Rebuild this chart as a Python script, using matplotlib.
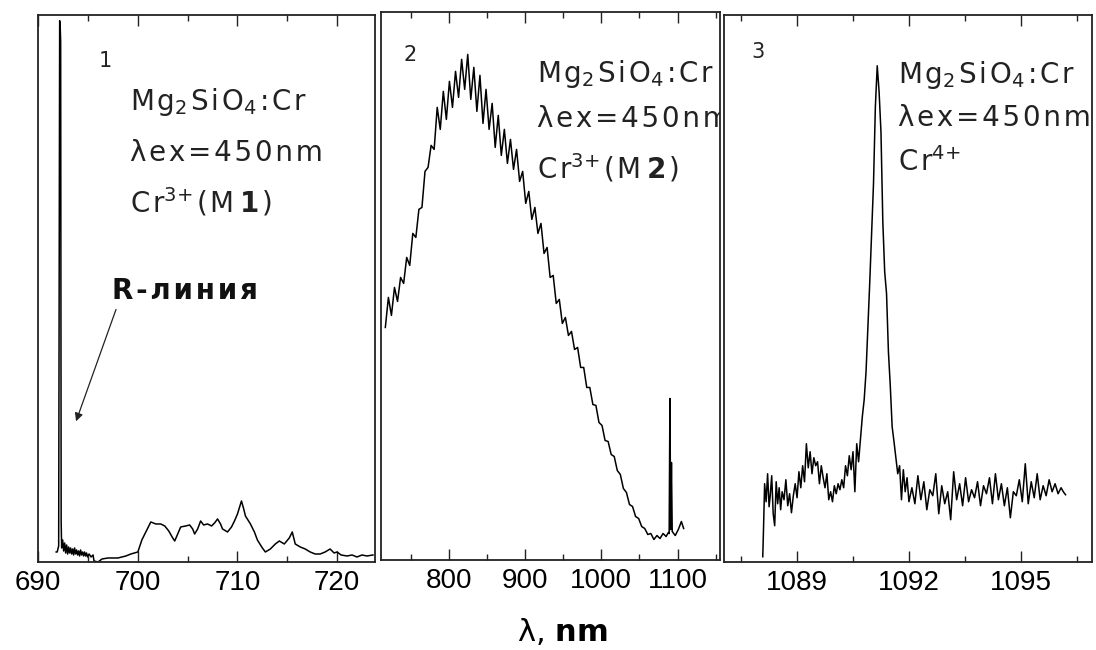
import matplotlib.pyplot as plt
from matplotlib.ticker import FixedLocator

# ---- данные (интенсивность в отн. ед.) ----
# 1: Cr3+ (M1), R-линия
wl1 = [691.8, 691.9, 692.05, 692.15, 692.2, 692.25, 692.3, 692.35, 692.45, 692.55,
       692.65, 692.75, 692.85, 692.95, 693.05, 693.15, 693.25, 693.35, 693.45, 693.55,
       693.65, 693.75, 693.85, 693.95, 694.05, 694.15, 694.25, 694.35, 694.45, 694.55,
       694.65, 694.75, 694.85, 694.95, 695.1, 695.3, 695.5, 695.6, 696.0, 696.4,
       697.0, 698.0, 698.8, 699.3, 700.0, 700.4, 700.8, 701.3, 701.8, 702.3,
       702.7, 703.1, 703.5, 703.7, 704.0, 704.3, 704.8, 705.2, 705.5, 705.7,
       706.0, 706.3, 706.6, 707.0, 707.4, 707.7, 708.0, 708.3, 708.5, 709.0,
       709.4, 709.7, 710.0, 710.4, 710.6, 710.8, 711.3, 711.7, 712.0, 712.5,
       712.8, 713.3, 713.8, 714.2, 714.7, 715.2, 715.5, 715.8, 716.3, 716.8,
       717.3, 717.8, 718.3, 718.8, 719.3, 719.7, 720.0, 720.4, 721.0, 721.5,
       722.0, 722.5, 723.0, 723.6]
int1 = [10, 10, 16, 541, 536, 520, 40, 14, 22, 11,
        19, 9, 17, 8, 15, 9, 14, 8, 13, 7,
        14, 8, 12, 7, 11, 6, 12, 7, 10, 6,
        10, 6, 9, 5, 8, 5, 7, 1, 0, 3,
        4, 4, 6, 8, 10, 22, 30, 40, 38, 38,
        36, 31, 24, 21, 28, 35, 36, 37, 33, 28,
        33, 41, 37, 38, 36, 39, 43, 38, 33, 30,
        35, 41, 48, 61, 54, 46, 38, 30, 22, 14,
        10, 13, 18, 21, 18, 24, 30, 18, 15, 13,
        10, 8, 8, 10, 13, 9, 10, 7, 6, 7,
        5, 7, 6, 7]

# 2: Cr3+ (M2)
wl2 = [717, 721, 725, 729, 733, 737, 741, 745, 749, 753,
       757, 761, 765, 769, 773, 777, 781, 785, 789, 793,
       797, 801, 805, 809, 813, 817, 821, 825, 829, 833,
       837, 841, 845, 849, 853, 857, 861, 865, 869, 873,
       877, 881, 885, 889, 893, 897, 901, 905, 909, 913,
       917, 921, 925, 929, 933, 937, 941, 945, 949, 953,
       957, 961, 965, 969, 973, 977, 981, 985, 989, 993,
       997, 1001, 1005, 1009, 1013, 1017, 1021, 1025, 1029, 1033,
       1037, 1041, 1045, 1049, 1053, 1057, 1061, 1065, 1069, 1073,
       1077, 1081, 1085, 1088, 1089, 1090, 1091, 1092, 1093, 1097,
       1101, 1105, 1108]
int2 = [232, 262, 244, 272, 258, 282, 276, 302, 294, 326,
        322, 350, 352, 388, 392, 414, 410, 452, 430, 468,
        440, 478, 452, 488, 462, 500, 470, 505, 460, 492,
        448, 484, 436, 470, 430, 456, 412, 444, 404, 430,
        396, 420, 390, 410, 378, 388, 356, 368, 340, 352,
        326, 336, 306, 312, 282, 284, 256, 260, 236, 242,
        224, 228, 210, 212, 192, 192, 172, 172, 155, 154,
        137, 134, 119, 118, 105, 103, 89, 85, 71, 67,
        55, 53, 43, 41, 33, 31, 25, 26, 20, 24,
        21, 26, 23, 27, 26, 161, 30, 97, 28, 24,
        30, 38, 31]

# 3: Cr4+
wl3 = [1088.08, 1088.10, 1088.13, 1088.17, 1088.21, 1088.25, 1088.28, 1088.32, 1088.36, 1088.40,
       1088.44, 1088.48, 1088.52, 1088.56, 1088.60, 1088.65, 1088.70, 1088.75, 1088.80, 1088.85,
       1088.90, 1088.95, 1089.00, 1089.05, 1089.10, 1089.15, 1089.20, 1089.25, 1089.30, 1089.35,
       1089.40, 1089.45, 1089.50, 1089.55, 1089.60, 1089.65, 1089.70, 1089.75, 1089.80, 1089.85,
       1089.90, 1089.95, 1090.00, 1090.05, 1090.10, 1090.15, 1090.20, 1090.25, 1090.30, 1090.35,
       1090.40, 1090.45, 1090.50, 1090.55, 1090.60, 1090.65, 1090.70, 1090.75, 1090.80, 1090.85,
       1090.90, 1090.95, 1091.00, 1091.05, 1091.10, 1091.15, 1091.20, 1091.25, 1091.30, 1091.35,
       1091.40, 1091.45, 1091.50, 1091.55, 1091.60, 1091.65, 1091.70, 1091.75, 1091.80, 1091.85,
       1091.90, 1091.95, 1092.00, 1092.08, 1092.16, 1092.24, 1092.32, 1092.40, 1092.48, 1092.56,
       1092.64, 1092.72, 1092.80, 1092.88, 1092.96, 1093.04, 1093.12, 1093.20, 1093.28, 1093.36,
       1093.44, 1093.52, 1093.60, 1093.68, 1093.76, 1093.84, 1093.92, 1094.00, 1094.08, 1094.16,
       1094.24, 1094.32, 1094.40, 1094.48, 1094.56, 1094.64, 1094.72, 1094.80, 1094.88, 1094.96,
       1095.04, 1095.12, 1095.20, 1095.28, 1095.36, 1095.44, 1095.52, 1095.60, 1095.68, 1095.76,
       1095.84, 1095.92, 1096.00, 1096.08, 1096.14, 1096.20]
int3 = [5, 32, 78, 60, 88, 55, 66, 86, 48, 36,
        80, 58, 74, 52, 70, 62, 82, 56, 68, 49,
        66, 78, 64, 90, 74, 96, 80, 118, 94, 110,
        88, 104, 96, 100, 78, 96, 84, 74, 88, 62,
        70, 60, 76, 68, 78, 72, 82, 74, 96, 86,
        106, 92, 110, 70, 118, 100, 122, 145, 162, 190,
        235, 280, 330, 378, 455, 496, 470, 430, 340, 290,
        268, 210, 176, 135, 120, 104, 88, 96, 62, 92,
        70, 84, 60, 74, 58, 86, 62, 80, 52, 72,
        66, 88, 48, 76, 58, 70, 42, 90, 62, 78,
        56, 84, 60, 72, 64, 80, 56, 76, 68, 84,
        58, 88, 62, 78, 56, 74, 44, 70, 66, 82,
        60, 98, 58, 80, 64, 88, 62, 76, 66, 82,
        70, 78, 68, 74, 70, 67]

panel_nums = ['1', '2', '3']
centre_ion = ['3', '3', '4']
centre_site = ['1', '2', '']

xlims = [(690, 723.8), (711, 1155), (1087.05, 1096.92)]
major_ticks = [[690, 700, 710, 720], [800, 900, 1000, 1100], [1089, 1092, 1095]]
minor_ticks = [[695, 705, 715], [750, 850, 950, 1050, 1150], [1087.5, 1090.5, 1093.5, 1096.5]]

HS = '\u200a'  # узкий пробел для разрядки


def spaced(s):
    return HS.join(s)


formula = 'M' + HS + 'g$_2$' + HS + spaced('SiO') + '$_4$' + HS + spaced(':Cr')
excitation = spaced('λex=450nm')

plt.rcParams['font.family'] = ['DejaVu Sans']
plt.rcParams['mathtext.fontset'] = 'dejavusans'

fig = plt.figure(figsize=(10.96, 6.5), dpi=100)
rects = [[0.0349, 0.1354, 0.3072, 0.8420],
         [0.3474, 0.1392, 0.3091, 0.8418],
         [0.6609, 0.1358, 0.3358, 0.8415]]
axes = [fig.add_axes(r) for r in rects]

series = [(wl1, int1), (wl2, int2), (wl3, int3)]
num_pos = [(0.198, 0.915), (0.086, 0.922), (0.092, 0.932)]
txt_x = [0.272, 0.461, 0.472]
txt_y = [[0.840, 0.748, 0.658], [0.887, 0.805, 0.716], [0.890, 0.812, 0.730]]

for i, ax in enumerate(axes):
    x, y = series[i]
    ax.plot(x, y, color='black', lw=1.1)
    ax.set_xlim(*xlims[i])
    ax.set_ylim(0, 547)
    ax.set_yticks([])
    ax.xaxis.set_major_locator(FixedLocator(major_ticks[i]))
    ax.xaxis.set_minor_locator(FixedLocator(minor_ticks[i]))
    ax.set_xticklabels([str(t) for t in major_ticks[i]],
                       family=['Liberation Sans', 'DejaVu Sans'], fontsize=20)
    ax.tick_params(axis='x', which='both', direction='in', top=True, bottom=True,
                   width=1, color='#222222', pad=6)
    ax.tick_params(axis='x', which='major', length=8)
    ax.tick_params(axis='x', which='minor', length=4)
    for sp in ax.spines.values():
        sp.set_linewidth(1.3)
        sp.set_color('#222222')

    ax.text(num_pos[i][0], num_pos[i][1], panel_nums[i], transform=ax.transAxes,
            fontsize=15, ha='center', va='center', color='#222222')
    centre = 'C' + HS + 'r$^{' + centre_ion[i] + '{+}}$'
    if centre_site[i]:
        centre += HS + '(' + HS + 'M' + '\u2009' + r'$\mathbf{' + centre_site[i] + '}$' + HS + ')'
    for line, ty in zip([formula, excitation, centre], txt_y[i]):
        ax.text(txt_x[i], ty, line, transform=ax.transAxes, fontsize=20,
                ha='left', va='center', color='#222222', clip_on=True)

# R-линия со стрелкой
axes[0].annotate('', xy=(693.7, 138), xytext=(697.9, 255),
                 arrowprops=dict(arrowstyle='-|>', color='#222222', lw=0.9,
                                 mutation_scale=12))
axes[0].text(0.435, 0.495, spaced('R-линия'), transform=axes[0].transAxes, fontsize=20,
             fontweight='bold', ha='center', va='center', color='#111111')

fig.text(0.513, 0.028, 'λ, ' + r'$\mathbf{nm}$', fontsize=22,
         ha='center', va='center')

fig.savefig('out.png', dpi=100)
